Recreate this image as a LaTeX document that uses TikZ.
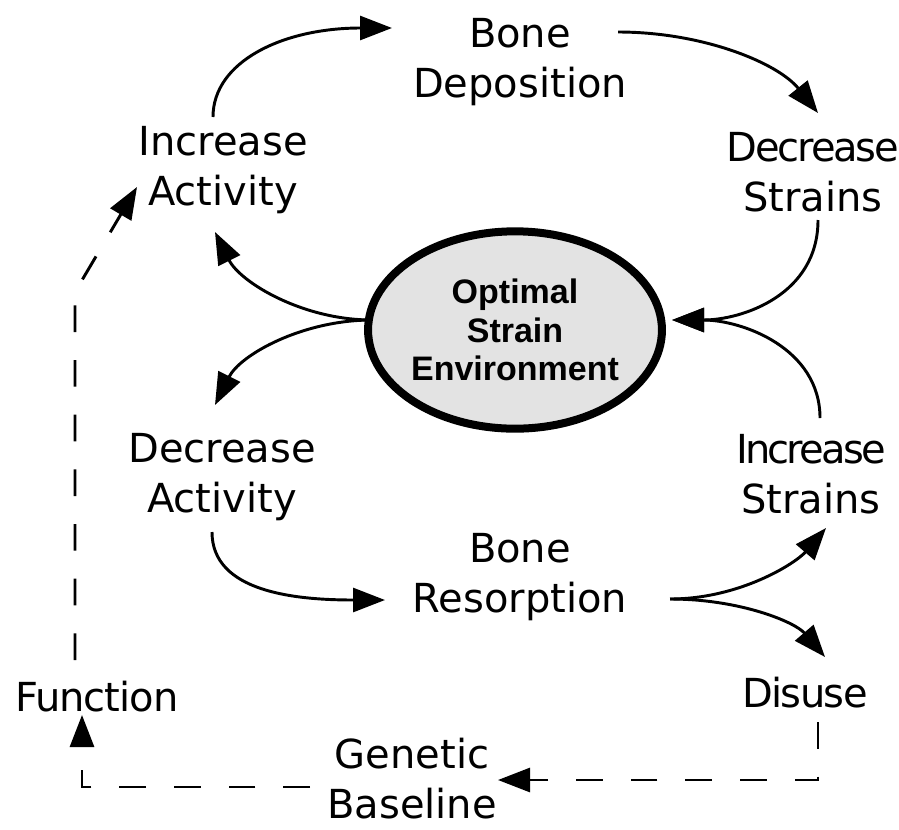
\documentclass[tikz,border=0pt]{standalone}
\usepackage{fontspec}
\setmainfont{DejaVu Sans}
\newfontfamily\osefont{Liberation Sans}
\newcommand{\tightls}[2]{{\addfontfeatures{LetterSpace=#1}#2}}
\usetikzlibrary{arrows.meta,calc,shapes.geometric}
\begin{document}
\begin{tikzpicture}[x=0.75pt,y=-0.75pt,
  lbl/.style={align=center,inner sep=0pt,font=\fontsize{30}{37.5}\selectfont},
  arr/.style={line width=2.2pt,-{Triangle[length=24pt,width=18pt]}},
  dsh/.style={arr,dash pattern=on 20pt off 21pt},
  osebox/.style={ellipse,draw,line width=6pt,fill=gray!22,inner sep=0pt,
     minimum width=202pt,minimum height=148pt,align=center,
     font=\osefont\bfseries\fontsize{25.5}{29}\selectfont}]
\useasboundingbox (0,0) rectangle (899,829);
\node[lbl] (bd) at (520,62) {Bone\\Deposition};
\node[lbl] (ia) at (223,170) {Increase\\Activity};
\node[lbl] (ds) at (813,172) {\tightls{-5.5}{Decrease}\\Strains};
\node[osebox] (ose) at (515,330) {Optimal\\Strain\\Environment};
\node[lbl] (da) at (222,477) {Decrease\\Activity};
\node[lbl] (is) at (811,474) {\tightls{-7}{Increase}\\Strains};
\node[lbl] (br) at (520,577) {Bone\\Resorption};
\node[lbl] (du) at (805,693) {\tightls{-4}{Disuse}};
\node[lbl] (fn) at (97,697) {\tightls{-2.5}{Function}};
\node[lbl] (gb) at (412,779) {Genetic\\Baseline};
% solid connectors
\draw[arr] ($(ia)+(-10,-53)$) .. controls +(0,-55) and +(-110,0) .. ($(bd)+(-128,-34)$);
\draw[arr] ($(bd)+(98,-30)$) .. controls +(85,0) and +(-40,-50) .. ($(ds)+(5,-59)$);
\draw[arr] ($(ds)+(5,48)$) .. controls +(0,75) and +(70,0) .. ($(ose)+(157,-10)$);
\draw[arr] ($(ose)+(-143,-10)$) .. controls +(-70,0) and +(25,50) .. ($(ia)+(-8,62)$);
\draw[arr] ($(ose)+(-143,-10)$) .. controls +(-70,0) and +(25,-50) .. ($(da)+(-7,-72)$);
\draw[arr] ($(is)+(9,-56)$) .. controls +(0,-70) and +(70,0) .. ($(ose)+(157,-10)$);
\draw[arr] ($(da)+(-10,55)$) .. controls +(0,60) and +(-90,0) .. ($(br)+(-135,23)$);
\draw[arr] ($(br)+(150,22)$) .. controls +(70,0) and +(-30,35) .. ($(is)+(15,54)$);
\draw[arr] ($(br)+(150,22)$) .. controls +(70,0) and +(-30,-35) .. ($(du)+(20,-36)$);
% dashed connectors
\draw[dsh] ($(du)+(13,29)$) |- ($(gb)+(86,1)$);
\draw[dsh] ($(gb)+(-102,8)$) -| ($(fn)+(-15,18)$);
\draw[dsh] ($(fn)+(-22,-37)$) -- ($(fn)+(-22,-405)$) -- ($(ia)+(-86,17)$);
\end{tikzpicture}
\end{document}
